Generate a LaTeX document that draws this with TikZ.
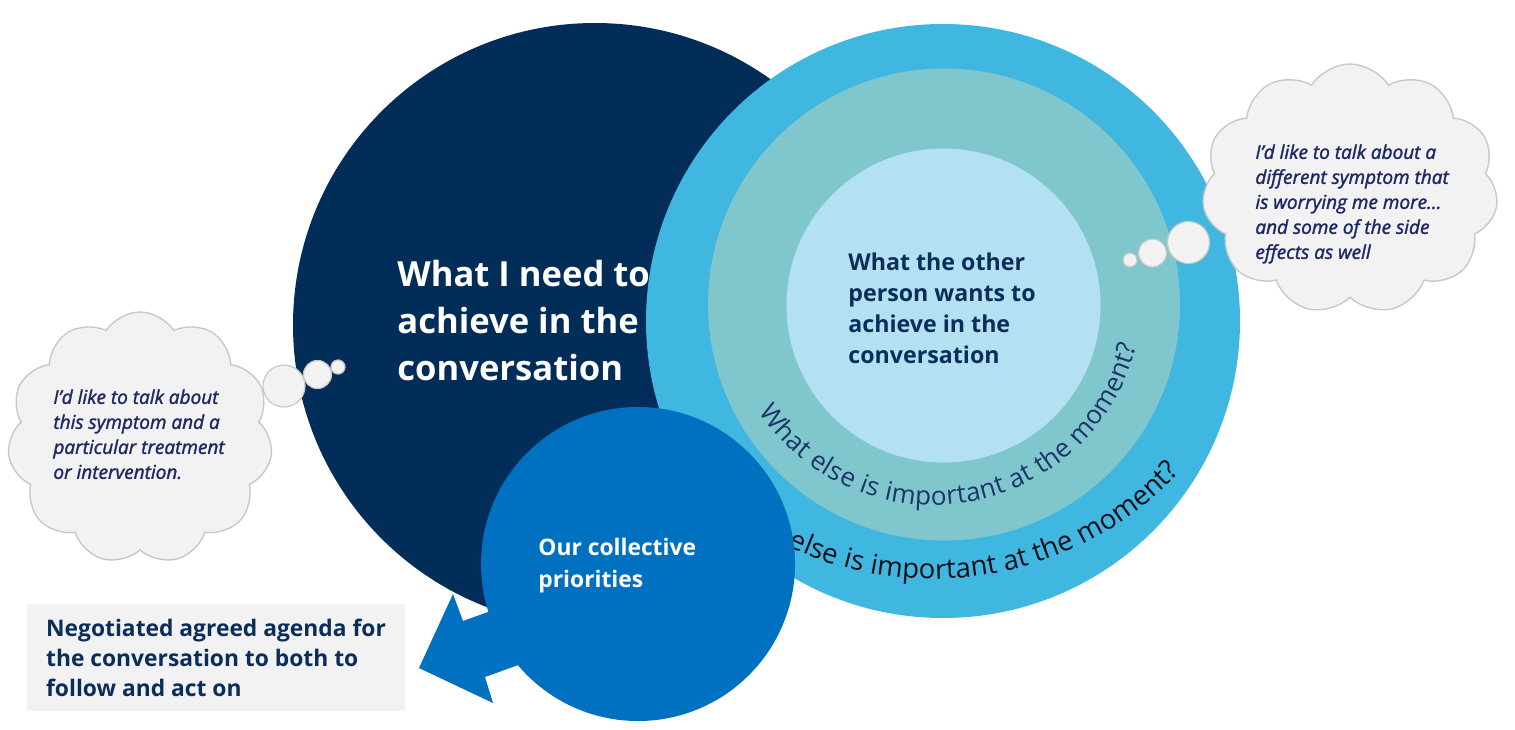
\documentclass[tikz,border=0pt]{standalone}
\usepackage{fontspec}
\setmainfont{Open Sans}
\newfontfamily\cloudfam{Open Sans}[ItalicFeatures={FakeBold=1.6}]
\usetikzlibrary{shapes.symbols,decorations.text}
\definecolor{navy}{RGB}{3,45,89}
\definecolor{ringblue}{RGB}{64,183,224}
\definecolor{teal}{RGB}{128,199,205}
\definecolor{pale}{RGB}{179,225,242}
\definecolor{ourblue}{RGB}{0,112,192}
\definecolor{darktxt}{RGB}{11,45,91}
\definecolor{innertxt}{RGB}{28,52,104}
\definecolor{outertxt}{RGB}{15,15,25}
\definecolor{cloudtxt}{RGB}{30,40,100}
\definecolor{cloudfill}{RGB}{242,242,242}
\definecolor{cloudline}{RGB}{200,200,200}
\definecolor{boxfill}{RGB}{242,242,242}
\tikzset{
  disc/.style={circle, inner sep=0pt, draw=none},
  cloudbox/.style={cloud, cloud puffs=11, cloud puff arc=115, aspect=1, fill=cloudfill, draw=cloudline, line width=0.7pt, inner sep=0pt},
  bubble/.style={circle, fill=cloudfill, draw=cloudline, line width=0.6pt, inner sep=0pt},
  thought/.style={anchor=north west, inner sep=0pt, align=left, text=cloudtxt, font=\cloudfam\itshape\fontsize{9.5}{12.5}\selectfont},
  label/.style={anchor=north west, inner sep=0pt, align=left, font=\bfseries}
}
\begin{document}
\begin{tikzpicture}[x=0.5pt,y=-0.5pt]
\useasboundingbox (0,0) rectangle (1515,729);
% circles
\node[disc, fill=navy, minimum size=302pt] (me) at (595,325) {};
\node[disc, fill=ringblue, minimum size=297pt] (outer) at (943,321) {};
\node[disc, fill=teal, minimum size=236pt] (middle) at (944,304.5) {};
\node[disc, fill=pale, minimum size=157pt] (other) at (943.5,305.5) {};
% curved texts
\coordinate (ic) at (933,295);
\coordinate (oc) at (933,240);
\path[decorate, decoration={text along path, text align={fit to path},
  text={|\fontsize{13}{15}\selectfont\color{innertxt}|What else is important at the moment?}}]
  (ic) ++(146:210) arc[start angle=146, end angle=14, radius=210];
\path[decorate, decoration={text along path, text align={fit to path},
  text={|\fontsize{13.75}{16}\selectfont\color{outertxt}|What else is important at the moment?}}]
  (oc) ++(128:339) arc[start angle=128, end angle=43.3, radius=339];
% arrow
\coordinate (a1) at (538,594);
\coordinate (a2) at (463,621);
\coordinate (a3) at (453,594);
\coordinate (tip) at (419,668);
\coordinate (a5) at (493,703);
\coordinate (a6) at (485,677);
\coordinate (a7) at (560,650);
\fill[ourblue] (a1) -- (a2) -- (a3) -- (tip) -- (a5) -- (a6) -- (a7) -- cycle;
\node[disc, fill=ourblue, minimum size=157pt] (ours) at (638,564) {};
% texts in circles
\node[label, text=white, font=\bfseries\fontsize{17.3}{23.5}\selectfont] (metext) at (397,260) {What I need to\\achieve in the\\conversation};
\node[label, text=darktxt, font=\bfseries\fontsize{11.6}{15.5}\selectfont] (othertext) at (848,252.5) {What the other\\person wants to\\achieve in the\\conversation};
\node[label, text=white, font=\bfseries\fontsize{11.4}{16}\selectfont] (ourstext) at (538,537.5) {Our collective\\priorities};
% agenda box
\node[fill=boxfill, minimum width=189pt, minimum height=53.5pt, inner xsep=8.5pt, align=left, text=darktxt, font=\bfseries\fontsize{11.4}{15}\selectfont] (agenda) at (216,657.5) {Negotiated agreed agenda for\\the conversation to both to\\follow and act on};
% clouds
\node[cloudbox, minimum width=132.5pt, minimum height=126pt] (lcloud) at (140,438) {};
\node[cloudbox, minimum width=148pt, minimum height=125pt] (rcloud) at (1350,189) {};
\node[bubble, minimum size=21pt] (lb1) at (284,386) {};
\node[bubble, minimum size=14pt] (lb2) at (317.5,374.5) {};
\node[bubble, minimum size=7pt] (lb3) at (338,367) {};
\node[bubble, minimum size=21pt] (rb1) at (1188.5,242.5) {};
\node[bubble, minimum size=14pt] (rb2) at (1152.5,253) {};
\node[bubble, minimum size=7pt] (rb3) at (1130,260) {};
\node[thought] (ltext) at (53,389) {I’d like to talk about\\this symptom and a\\particular treatment\\or intervention.};
\node[thought] (rtext) at (1255,144) {I’d like to talk about a\\different symptom that\\is worrying me more…\\and some of the side\\effects as well};
\end{tikzpicture}
\end{document}
